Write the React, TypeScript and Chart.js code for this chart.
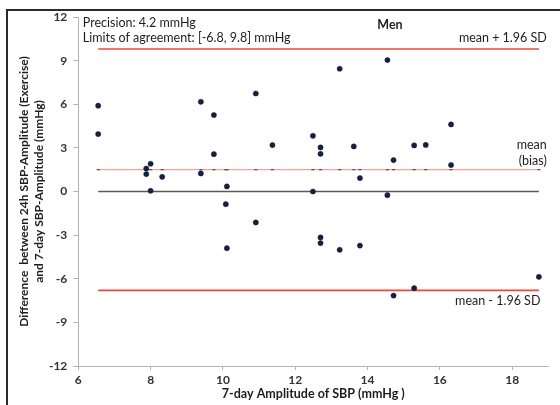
import { useEffect, useRef } from 'react';
import { Chart, registerables } from 'chart.js';

Chart.register(...registerables);

// Bland–Altman data: 7-day SBP amplitude vs. difference (24h exercise − 7-day)
const amplitude7d = [
  6.55, 6.55, 7.88, 7.88, 8.0, 8.0, 8.32, 9.39, 9.39, 9.75, 9.75, 10.08, 10.11, 10.11,
  10.91, 10.91, 11.37, 12.49, 12.49, 12.7, 12.7, 12.7, 12.7, 13.23, 13.23, 13.62, 13.79,
  13.79, 14.55, 14.55, 14.72, 14.72, 15.29, 15.29, 15.61, 16.31, 16.31, 18.74,
];
const difference = [
  5.9, 3.95, 1.58, 1.2, 1.91, 0.05, 1.01, 6.17, 1.24, 5.26, 2.57, -0.87, 0.35, -3.9,
  6.74, -2.13, 3.19, 3.83, 0.0, 3.03, 2.59, -3.16, -3.55, 8.44, -4.01, 3.1, 0.92,
  -3.72, 9.04, -0.25, 2.16, -7.16, 3.17, -6.65, 3.2, 4.61, 1.82, -5.87,
];

const meanBias = 1.5;
const upperLoa = 9.8;
const lowerLoa = -6.8;
const precision = 4.2;

const xTicks = [6, 8, 10, 12, 14, 16, 18];
const yTicks = [-12, -9, -6, -3, 0, 3, 6, 9, 12];

const FONT = 'Lato, "Liberation Sans", sans-serif';
const RED = '#f0463c';

const minX = Math.min(...amplitude7d);
const maxX = Math.max(...amplitude7d);
const uniqueX = Array.from(new Set(amplitude7d)).sort((a, b) => a - b);

const annotate = {
  id: 'annotate',
  beforeDraw(chart: any) {
    const { ctx } = chart;
    ctx.save();
    ctx.fillStyle = '#2b2b2b';
    ctx.fillRect(6, 9, 554, 2);
    ctx.fillRect(6, 9, 2, 396);
    ctx.restore();
  },
  afterDatasetsDraw(chart: any) {
    const { ctx, chartArea, scales } = chart;
    const y = scales.y;
    const x = scales.x;
    ctx.save();
    ctx.fillStyle = '#1e1e1e';
    ctx.textBaseline = 'middle';
    ctx.font = `12.5px ${FONT}`;
    ctx.textAlign = 'left';
    ctx.fillText(`Precision: ${precision} mmHg`, chartArea.left + 4.5, 23);
    ctx.fillText(`Limits of agreement: [${lowerLoa}, ${upperLoa}] mmHg`, chartArea.left + 4.5, 38);

    ctx.textAlign = 'right';
    const rx = chartArea.right - 1.5;
    ctx.fillText('mean + 1.96 SD', rx, y.getPixelForValue(upperLoa) - 11.5);
    ctx.fillText('mean', rx, y.getPixelForValue(meanBias) - 24.5);
    ctx.fillText('(bias)', rx, y.getPixelForValue(meanBias) - 8.5);
    ctx.fillText('mean - 1.96 SD', x.getPixelForValue(maxX) + 1.5, y.getPixelForValue(lowerLoa) + 10.5);

    ctx.textAlign = 'center';
    ctx.font = `bold 12.5px ${FONT}`;
    ctx.fillText('Men', 390, 24.5);
    ctx.restore();
  },
};

export default function App() {
  const ref = useRef<HTMLCanvasElement | null>(null);

  useEffect(() => {
    if (!ref.current) return;
    const points = amplitude7d.map((v, i) => ({ x: v, y: difference[i] }));
    const chart = new Chart(ref.current, {
      type: 'scatter',
      data: {
        datasets: [
          {
            label: 'Difference',
            data: points,
            pointRadius: 2.6,
            pointBackgroundColor: '#13213d',
            pointBorderColor: '#13213d',
            pointBorderWidth: 0.5,
          },
          {
            label: 'Mean (bias)',
            data: uniqueX.map((v) => ({ x: v, y: meanBias })),
            showLine: true,
            borderColor: '#f7a19b',
            borderWidth: 1.2,
            pointStyle: 'line',
            pointRadius: 1.6,
            pointBorderColor: '#555',
            pointBorderWidth: 1.2,
          },
          {
            label: 'Zero',
            data: [
              { x: minX, y: 0 },
              { x: maxX, y: 0 },
            ],
            showLine: true,
            borderColor: '#5a5a5a',
            borderWidth: 1.5,
            pointRadius: 0,
          },
          {
            label: 'Upper limit',
            data: [
              { x: minX, y: upperLoa },
              { x: maxX, y: upperLoa },
            ],
            showLine: true,
            borderColor: RED,
            borderWidth: 1.6,
            pointRadius: 0,
          },
          {
            label: 'Lower limit',
            data: [
              { x: minX, y: lowerLoa },
              { x: maxX, y: lowerLoa },
            ],
            showLine: true,
            borderColor: RED,
            borderWidth: 1.6,
            pointRadius: 0,
          },
        ],
      },
      options: {
        animation: false,
        responsive: false,
        events: [],
        layout: { padding: { left: 0, top: 17, right: 11.7, bottom: 0 } },
        plugins: {
          legend: { display: false },
          tooltip: { enabled: false },
        },
        scales: {
          x: {
            type: 'linear',
            min: 6,
            max: 19,
            afterBuildTicks: (s: any) => {
              s.ticks = xTicks.map((value) => ({ value }));
            },
            afterFit: (s: any) => {
              s.height = 39;
            },
            grid: { drawOnChartArea: false, drawTicks: true, tickLength: 4, color: '#b4b4b4' },
            border: { color: '#b4b4b4', width: 1 },
            ticks: {
              color: '#333',
              padding: 3,
              maxRotation: 0,
              font: { family: FONT, size: 12, weight: 'bold' },
            },
            title: {
              display: true,
              text: '7-day Amplitude of SBP (mmHg )',
              color: '#1e1e1e',
              padding: { top: 0, bottom: 4 },
              font: { family: FONT, size: 12.5, weight: 'bold', lineHeight: 1.2 },
            },
          },
          y: {
            type: 'linear',
            min: -12,
            max: 12,
            afterBuildTicks: (s: any) => {
              s.ticks = yTicks.map((value) => ({ value }));
            },
            afterFit: (s: any) => {
              s.width = 78.3;
            },
            grid: { drawOnChartArea: false, drawTicks: true, tickLength: 5, color: '#b4b4b4' },
            border: { color: '#b4b4b4', width: 1 },
            ticks: {
              color: '#333',
              padding: 6,
              font: { family: FONT, size: 12, weight: 'bold' },
            },
            title: {
              display: true,
              text: [
                'Difference  between 24h SBP-Amplitude (Exercise)',
                'and 7-day SBP-Amplitude (mmHg)',
              ],
              color: '#1e1e1e',
              padding: { top: 17, bottom: 0 },
              font: { family: FONT, size: 12, weight: 'bold', lineHeight: 1.25 },
            },
          },
        },
      },
      plugins: [annotate],
    } as any);
    return () => chart.destroy();
  }, []);

  return (
    <div style={{ position: 'absolute', left: 0, top: 0, width: 560, height: 405, background: '#fff' }}>
      <canvas ref={ref} width={560} height={405} />
    </div>
  );
}
